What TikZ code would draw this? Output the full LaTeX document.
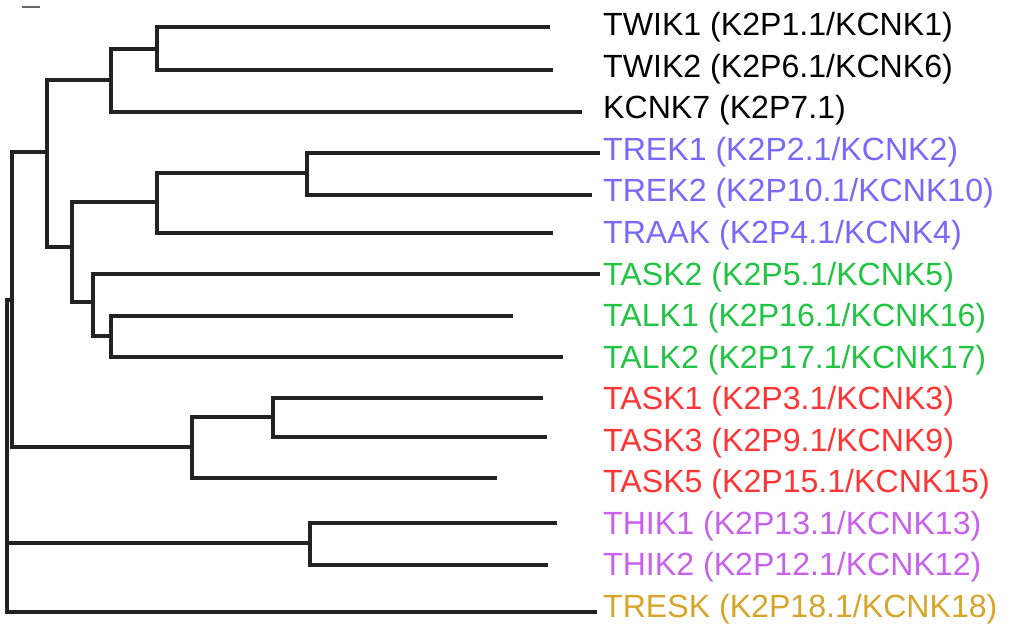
\documentclass[tikz,border=0pt]{standalone}
\usepackage{fontspec}
\setmainfont{Liberation Sans}
\definecolor{lineC}{HTML}{222222}
\definecolor{trekC}{HTML}{7A68F8}
\definecolor{taskC}{HTML}{22C444}
\definecolor{redC}{HTML}{FF3535}
\definecolor{thikC}{HTML}{C862EC}
\definecolor{treskC}{HTML}{D6A52A}
\begin{document}
\begin{tikzpicture}[x=1pt,y=-1pt,
  branch/.style={draw=lineC,line width=3.3pt,line join=miter,line cap=butt},
  lab/.style={anchor=base west,inner sep=0pt,font=\fontsize{32.1}{38}\selectfont}]
\useasboundingbox (0,0) rectangle (1030,628);
\fill[white] (0,0) rectangle (1030,628);
% fragment at top left
\draw[gray!80!black,line width=2.5pt] (22,7) -- (40,7);
% leaves
\coordinate (l1) at (550,27);
\coordinate (l2) at (553,70);
\coordinate (l3) at (582,112);
\coordinate (l4) at (600,153);
\coordinate (l5) at (592,195);
\coordinate (l6) at (553,233);
\coordinate (l7) at (600,274);
\coordinate (l8) at (513,316);
\coordinate (l9) at (563,357);
\coordinate (l10) at (543,398);
\coordinate (l11) at (547,437);
\coordinate (l12) at (497,478);
\coordinate (l13) at (557,523);
\coordinate (l14) at (548,565);
\coordinate (l15) at (597,612);
% internal nodes
\coordinate (n1) at (157,49);
\coordinate (n2) at (111,80);
\coordinate (n3) at (307,173);
\coordinate (n4) at (157,202);
\coordinate (n5) at (111,336);
\coordinate (n6) at (93,302);
\coordinate (n7) at (72,247);
\coordinate (n8) at (47,152);
\coordinate (n9) at (273,417);
\coordinate (n10) at (192,447);
\coordinate (nA) at (12,300);
\coordinate (n11) at (310,543);
\coordinate (root) at (7,456);
% branches
\draw[branch] (l1) -| (n1) |- (l2);
\draw[branch] (n1) -| (n2) |- (l3);
\draw[branch] (l4) -| (n3) |- (l5);
\draw[branch] (n3) -| (n4) |- (l6);
\draw[branch] (l8) -| (n5) |- (l9);
\draw[branch] (l7) -| (n6) |- (n5);
\draw[branch] (n4) -| (n7) |- (n6);
\draw[branch] (n2) -| (n8) |- (n7);
\draw[branch] (l10) -| (n9) |- (l11);
\draw[branch] (n9) -| (n10) |- (l12);
\draw[branch] (n8) -| (nA) |- (n10);
\draw[branch] (l13) -| (n11) |- (l14);
\draw[branch] (nA) -| (root) |- (l15);
\draw[branch] (root) |- (n11);
% labels
\node[lab,text=black] (t1) at (603,36) {TWIK1 (K2P1.1/KCNK1)};
\node[lab,text=black] (t2) at (603,77.5) {TWIK2 (K2P6.1/KCNK6)};
\node[lab,text=black] (t3) at (603,119) {KCNK7 (K2P7.1)};
\node[lab,text=trekC] (t4) at (603,160.5) {TREK1 (K2P2.1/KCNK2)};
\node[lab,text=trekC] (t5) at (603,202) {TREK2 (K2P10.1/KCNK10)};
\node[lab,text=trekC] (t6) at (603,243.5) {TRAAK (K2P4.1/KCNK4)};
\node[lab,text=taskC] (t7) at (603,285) {TASK2 (K2P5.1/KCNK5)};
\node[lab,text=taskC] (t8) at (603,326.5) {TALK1 (K2P16.1/KCNK16)};
\node[lab,text=taskC] (t9) at (603,368) {TALK2 (K2P17.1/KCNK17)};
\node[lab,text=redC] (t10) at (603,409.5) {TASK1 (K2P3.1/KCNK3)};
\node[lab,text=redC] (t11) at (603,451) {TASK3 (K2P9.1/KCNK9)};
\node[lab,text=redC] (t12) at (603,492.5) {TASK5 (K2P15.1/KCNK15)};
\node[lab,text=thikC] (t13) at (603,534) {THIK1 (K2P13.1/KCNK13)};
\node[lab,text=thikC] (t14) at (603,575.5) {THIK2 (K2P12.1/KCNK12)};
\node[lab,text=treskC] (t15) at (603,617) {TRESK (K2P18.1/KCNK18)};
\end{tikzpicture}
\end{document}
